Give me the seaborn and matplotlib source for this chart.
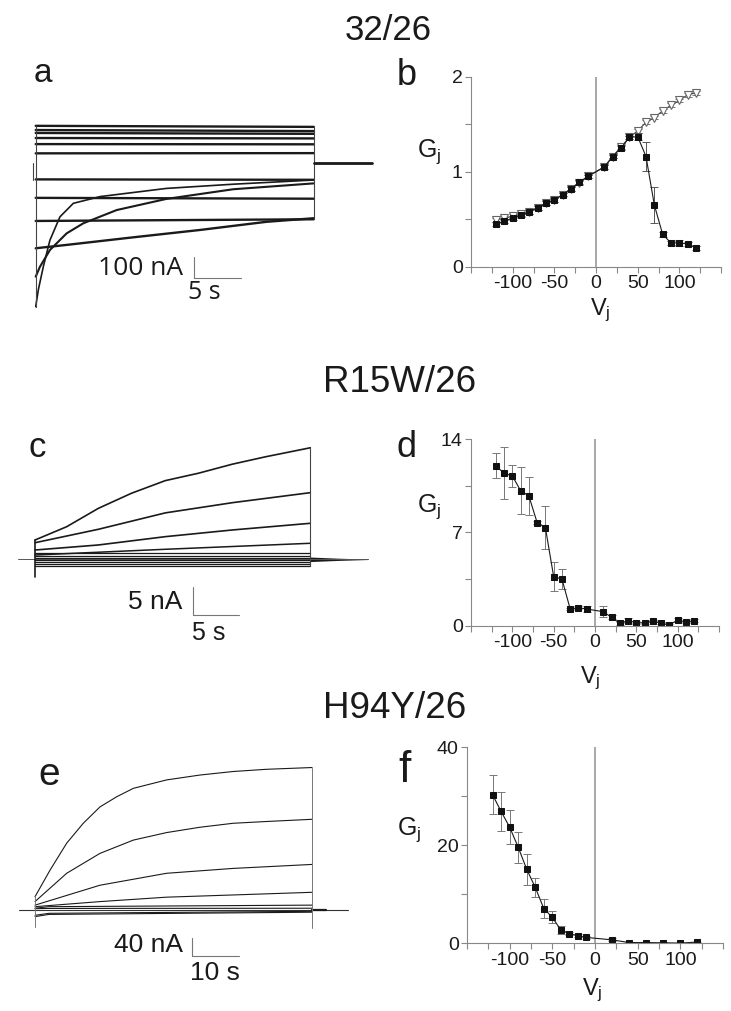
import numpy as np
import pandas as pd
import seaborn as sns
import matplotlib.pyplot as plt

sns.set_theme(style='white')
plt.rcParams['font.family'] = ['Liberation Sans', 'DejaVu Sans']
plt.rcParams['mathtext.default'] = 'regular'

W, H = 731, 1011

# ---------------- data: panel a (32/26 current traces, s / nA) ----------------
a_flat_start = [177, 157, 143, 119, 90, 46, -78, -166, -276]
a_flat_end = [172, 152, 139, 117, 89, 47, -80, -170, -268]
a_t1 = [0, 0.28, 0.82, 1.54, 2.62, 4.06, 6.94, 14.1, 21.3, 30]
a_i1 = [-684, -605, -494, -367, -256, -192, -160, -121, -101, -81]
a_t2 = [0, 0.46, 1.54, 3.34, 5.14, 8.74, 14.1, 21.3, 30]
a_i2 = [-541, -494, -414, -335, -287, -224, -171, -125, -97]
a_t3 = [0, 3.34, 10.5, 17.7, 24.9, 30]
a_i3 = [-406, -390, -354, -319, -280, -263]

# ---------------- panel c (R15W/26 traces) ----------------
c_t1 = [0, 3.45, 6.9, 10.5, 14.2, 17.8, 21.5, 25.1, 30]
c_i1 = [3.41, 5.76, 9.0, 11.66, 13.9, 15.2, 16.8, 18.1, 19.7]
c_t2 = [0, 6.9, 14.2, 21.5, 30]
c_i2 = [2.93, 5.3, 8.2, 10.0, 11.77]
c_i3 = [1.64, 2.53, 4.0, 5.18, 6.36]
c_t4 = [0, 14.2, 30]
c_i4 = [0.76, 1.77, 2.83]
c_flat = [1.1, 0.65, 0.3, -0.05, -0.4, -0.75, -1.15]
c_tail_t = [30, 33, 36.3]
c_tail_w = [0.4, 0.2, 0.04]

# ---------------- panel e (H94Y/26 traces) ----------------
e_t1 = [0, 3.25, 6.86, 10.45, 14.07, 17.7, 21.3, 28.5, 35.7, 42.9, 50.1, 60]
e_i1 = [30, 90, 151, 196, 233, 256, 275, 294, 305, 313, 318, 322]
e_t2 = [0, 6.86, 14.07, 21.3, 28.5, 35.7, 42.9, 50.1, 60]
e_i2 = [19, 83, 128, 158, 175, 187, 196, 200, 205]
e_t3 = [0, 14.07, 28.5, 42.9, 60]
e_i3 = [11, 56, 83, 94, 103]
e_i4 = [7.5, 19, 29, 34, 40]
e_small_start = [4, 3, -12, -15]
e_small_end = [11, 4, -3, -5]

# ---------------- G-V data ----------------
v_all = [-120, -110, -100, -90, -80, -70, -60, -50, -40, -30, -20, -10,
         10, 20, 30, 40, 50, 60, 70, 80, 90, 100, 110, 120]
b_sq = [0.45, 0.48, 0.51, 0.54, 0.58, 0.62, 0.67, 0.70, 0.76, 0.82, 0.89, 0.95,
        1.05, 1.16, 1.25, 1.36, 1.37, 1.16, 0.65, 0.34, 0.25, 0.25, 0.24, 0.20]
b_sq_err = [0.02] * 16 + [0.04, 0.15, 0.19, 0.03, 0.02, 0.03, 0.02, 0.02]
b_tri = [0.49, 0.51, 0.53, 0.55, 0.58, 0.62, 0.67, 0.70, 0.76, 0.82, 0.88, 0.95,
         1.05, 1.16, 1.26, 1.36, 1.43, 1.52, 1.57, 1.64, 1.70, 1.75, 1.81, 1.83]
b_tri_err = [0.02] * 24

d_g = [12.0, 11.43, 11.23, 10.13, 9.73, 7.73, 7.35, 3.68, 3.5, 1.25, 1.35, 1.25,
       1.05, 0.63, 0.18, 0.38, 0.23, 0.2, 0.35, 0.2, 0.05, 0.43, 0.28, 0.38]
d_err = [0.94, 1.95, 0.84, 1.75, 1.43, 0.1, 1.59, 1.09, 0.74, 0.1, 0.1, 0.2,
         0.43, 0.15, 0.1, 0.2, 0.1, 0.1, 0.1, 0.1, 0.05, 0.15, 0.1, 0.1]

f_v = [-120, -110, -100, -90, -80, -70, -60, -50, -40, -30, -20, -10,
       20, 40, 60, 80, 100, 120]
f_g = [30.3, 26.9, 23.7, 19.6, 15.1, 11.4, 7.1, 5.3, 2.7, 2.0, 1.5, 1.2,
       0.7, 0.15, 0.15, 0.1, 0.05, 0.25]
f_err = [4.0, 4.0, 3.5, 3.2, 3.1, 2.0, 2.0, 1.2, 0.8, 0.4, 0.3, 0.3,
         0.3, 0.1, 0.1, 0.1, 0.1, 0.1]

fig = plt.figure(figsize=(W / 100, H / 100), dpi=100)


def px_axes(l, t, r, b):
    return fig.add_axes([l / W, 1 - b / H, (r - l) / W, (b - t) / H])


def ftext(x, y, s, size, **kw):
    fig.text(x / W, 1 - y / H, s, fontsize=size, ha='left', va='baseline',
             color='#1a1a1a', **kw)


def trace(ax, t, i, lw, color='#1a1a1a'):
    sns.lineplot(x=t, y=i, ax=ax, color=color, lw=lw, sort=False, estimator=None)


def scalebar(ax, t0, i0, di, dt):
    ax.plot([t0, t0], [i0, i0 + di], color='#777', lw=0.8)
    ax.plot([t0, t0 + dt], [i0, i0], color='#777', lw=0.8)


# ---------------- panel a ----------------
ax = px_axes(0, 100, 380, 320)
ax.set_xlim(-3.85, 37.14)
ax.set_ylim(-747.6, 300)
for s, e in zip(a_flat_start, a_flat_end):
    trace(ax, [0, 30], [s, e], 1.7)
trace(ax, a_t1, a_i1, 1.2)
trace(ax, a_t2, a_i2, 1.5)
trace(ax, a_t3, a_i3, 1.7)
ax.plot([0, 0], [a_i1[0], a_flat_start[0]], color='#444', lw=0.8)
ax.plot([30, 30], [a_flat_end[-1], a_flat_end[0]], color='#444', lw=0.8)
ax.plot([30, 36.3], [0, 0], color='#1a1a1a', lw=2)
ax.plot([-0.3, -0.3], [0, -81], color='#444', lw=0.8)
scalebar(ax, 17.1, -548, 100, 5)
ax.text(15.9, -500, '100 nA', fontsize=19, ha='right', va='center',
        family=['Open Sans', 'DejaVu Sans'], color='#1a1a1a')
ax.text(18.2, -619, '5 s', fontsize=18, ha='center', va='center',
        family=['Open Sans', 'DejaVu Sans'], color='#1a1a1a')
ax.set_axis_off()

# ---------------- panel c ----------------
ax = px_axes(0, 430, 380, 650)
ax.set_xlim(-3.82, 37.6)
ax.set_ylim(-16.02, 22.84)
ax.plot([-1.85, 36.3], [0, 0], color='#555', lw=0.7)
trace(ax, c_t1, c_i1, 1.2)
trace(ax, c_t2, c_i2, 1.2)
trace(ax, c_t2, c_i3, 1.2)
trace(ax, c_t4, c_i4, 1.1)
for lv in c_flat:
    trace(ax, [0, 30], [lv, lv], 0.9)
ax.fill_between(c_tail_t, [-w for w in c_tail_w], c_tail_w, color='#1a1a1a', lw=0)
ax.plot([0, 0], [3.41, -3.07], color='#1a1a1a', lw=1.2)
ax.plot([30, 30], [19.7, -1.18], color='#444', lw=0.8)
scalebar(ax, 17.2, -9.84, 5, 5)
ax.text(16.1, -7.49, '5 nA', fontsize=19, ha='right', va='center', color='#1a1a1a')
ax.text(18.9, -13.0, '5 s', fontsize=18, ha='center', va='center', color='#1a1a1a')
ax.set_axis_off()

# ---------------- panel e ----------------
ax = px_axes(0, 750, 380, 1000)
ax.set_xlim(-7.58, 74.7)
ax.set_ylim(-203.4, 361.6)
ax.plot([-3.5, 67.7], [0, 0], color='#333', lw=0.8)
trace(ax, e_t1, e_i1, 0.8)
trace(ax, e_t2, e_i2, 0.8)
trace(ax, e_t3, e_i3, 0.8)
trace(ax, e_t3, e_i4, 0.8)
for s, e in zip(e_small_start, e_small_end):
    trace(ax, [0, 3, 60], [s, (s + e) / 2, e], 0.8)
ax.plot([60, 63], [0, 0], color='#1a1a1a', lw=1.6)
ax.plot([0, 0], [31, -38], color='#777', lw=0.7)
ax.plot([60, 60], [322, -41], color='#777', lw=0.7)
scalebar(ax, 34.1, -104, 40, 10)
ax.text(32.0, -79, '40 nA', fontsize=19, ha='right', va='center', color='#1a1a1a')
ax.text(38.96, -142, '10 s', fontsize=19, ha='center', va='center', color='#1a1a1a')
ax.set_axis_off()


# ---------------- G-V panels ----------------
def gv_axes(l, t, r, b, ymax):
    ax = px_axes(l, t, r, b)
    ax.set_xlim(-150, 150)
    ax.set_ylim(0, ymax)
    for side in ['top', 'right']:
        ax.spines[side].set_visible(False)
    for side in ['left', 'bottom']:
        ax.spines[side].set_color('#888')
        ax.spines[side].set_linewidth(0.8)
    ax.set_xticks([-150, -100, -50, 0, 50, 100, 150])
    ax.set_xticklabels(['', '-100', '-50', '0', '50', '100', ''])
    ax.set_xticks(np.arange(-125, 150, 50), minor=True)
    ax.set_yticks([0, ymax / 2, ymax])
    ax.set_yticks([ymax / 4, 3 * ymax / 4], minor=True)
    ax.tick_params(which='both', direction='out', length=4, width=0.8,
                   color='#888', labelsize=14, labelcolor='#1a1a1a', pad=2,
                   bottom=True, left=True)
    ax.axvline(0, color='#999', lw=1.2, zorder=0)
    ax.patch.set_alpha(0)
    return ax


ax = gv_axes(471, 76.7, 721, 266.7, 2)
ax.set_yticklabels(['0', '1', '2'])
ax.errorbar(v_all, b_tri, yerr=b_tri_err, fmt='none', ecolor='#777',
            elinewidth=0.7, capsize=3, capthick=0.7)
sns.lineplot(x=v_all, y=b_tri, ax=ax, color='#444', lw=0.8, marker='v',
             markersize=6, markerfacecolor='white', markeredgecolor='#666',
             markeredgewidth=0.8)
ax.errorbar(v_all, b_sq, yerr=b_sq_err, fmt='none', ecolor='#555',
            elinewidth=0.7, capsize=3, capthick=0.7)
sns.lineplot(x=v_all, y=b_sq, ax=ax, color='#1a1a1a', lw=0.8, marker='s',
             markersize=5, markerfacecolor='#111', markeredgecolor='#111')

ax = gv_axes(471, 439, 719, 625.7, 14)
ax.set_yticklabels(['0', '7', '14'])
ax.errorbar(v_all, d_g, yerr=d_err, fmt='none', ecolor='#777',
            elinewidth=0.7, capsize=3, capthick=0.7)
sns.lineplot(x=v_all, y=d_g, ax=ax, color='#1a1a1a', lw=0.8, marker='s',
             markersize=5, markerfacecolor='#111', markeredgecolor='#111')

ax = gv_axes(467, 747.3, 723, 943.3, 40)
ax.set_yticklabels(['0', '20', '40'])
ax.errorbar(f_v, f_g, yerr=f_err, fmt='none', ecolor='#777',
            elinewidth=0.7, capsize=3, capthick=0.7)
sns.lineplot(x=f_v, y=f_g, ax=ax, color='#1a1a1a', lw=0.8, marker='s',
             markersize=5, markerfacecolor='#111', markeredgecolor='#111')

# ---------------- text ----------------
ftext(345, 40, '32/26', 25)
ftext(323.3, 391.7, 'R15W/26', 26.5)
ftext(323.3, 718.3, 'H94Y/26', 26.5)

ftext(33.3, 81.7, 'a', 24)
ftext(396.7, 85, 'b', 26)
ftext(28, 456.7, 'c', 25)
ftext(396.7, 456.7, 'd', 26)
ftext(38.3, 785, 'e', 28)
ftext(398, 781.7, 'f', 32)

ftext(416.7, 156.7, 'G$_j$', 18)
ftext(416.7, 511.7, 'G$_j$', 18)
ftext(396.7, 835, 'G$_j$', 18)
ftext(590, 315, 'V$_j$', 17)
ftext(580, 683.3, 'V$_j$', 17)
ftext(581.7, 995, 'V$_j$', 17)

plt.savefig('out.png', dpi=100, facecolor='white')
